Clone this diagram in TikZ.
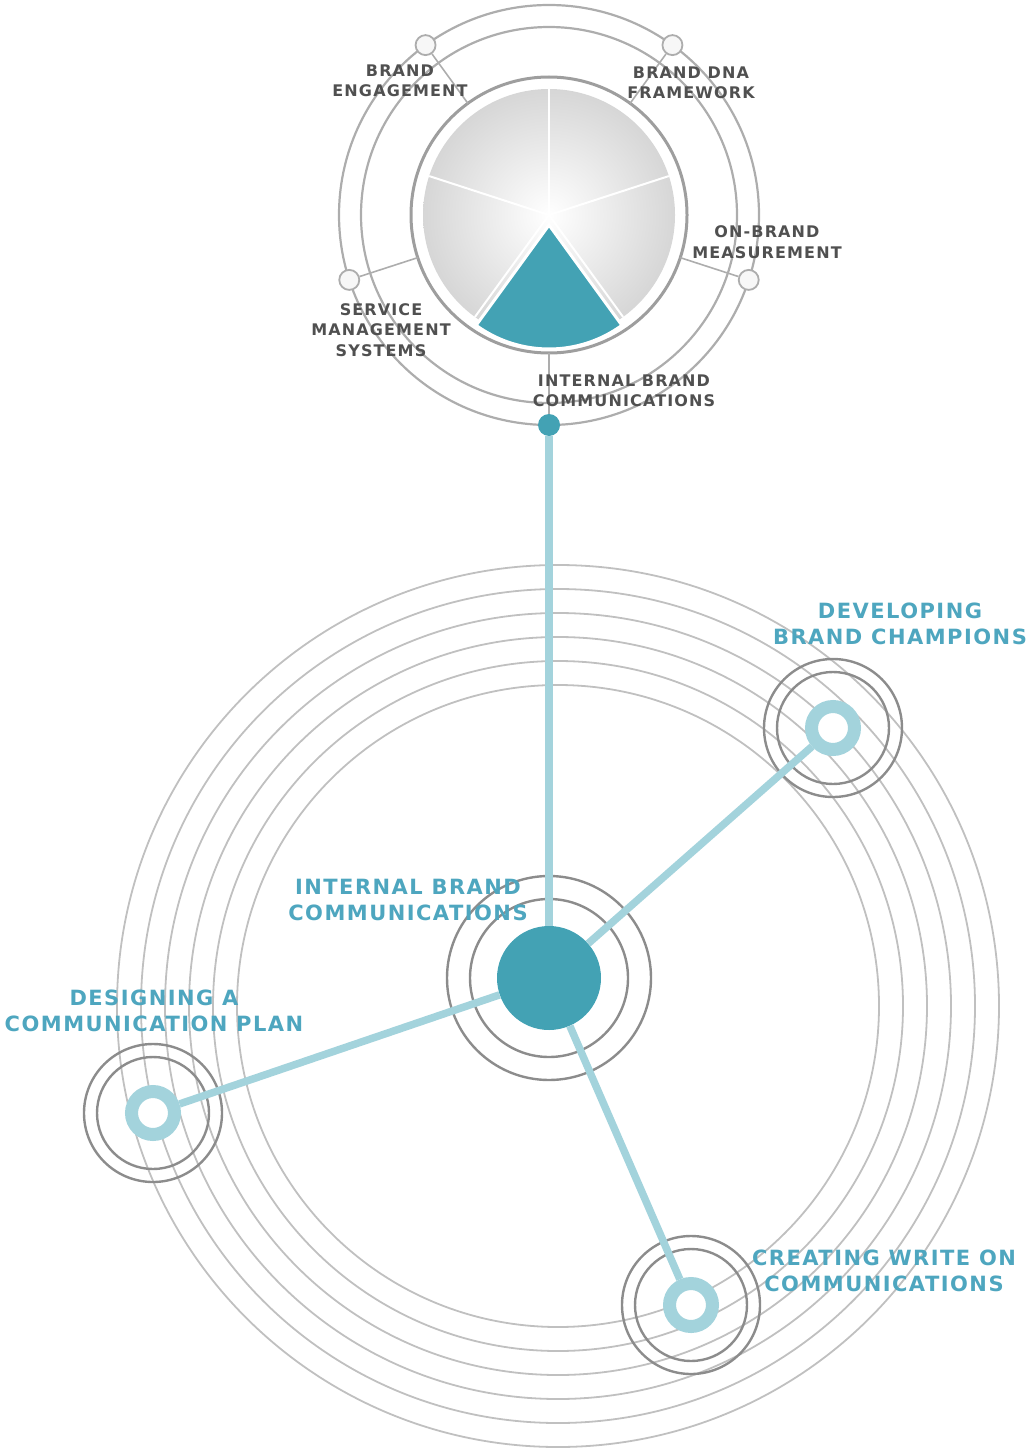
\documentclass[tikz,border=0pt]{standalone}
\usepackage{fontspec}
\usepackage{tikz}
\usepackage{xcolor}

\newfontfamily\lblfont{DejaVu Sans}[LetterSpace=7]

\definecolor{ibteal}{RGB}{67,162,180}
\definecolor{iblight}{RGB}{163,211,220}
\definecolor{ibtext}{RGB}{78,166,191}
\definecolor{ibgray}{RGB}{80,80,80}
\definecolor{ringgray}{RGB}{192,192,192}
\definecolor{darkring}{RGB}{140,140,140}

\tikzset{
  topring/.style={draw=ringgray!90!black,line width=2.2pt},
  pieborder/.style={draw=black!38,line width=3pt},
  spoke/.style={draw=ringgray!90!black,line width=1.6pt},
  tdot/.style={circle,draw=ringgray!90!black,fill=black!3,line width=1.8pt,minimum size=20pt,inner sep=0pt},
  tdotteal/.style={circle,fill=ibteal,minimum size=22pt,inner sep=0pt},
  bigring/.style={draw=ringgray,line width=1.8pt},
  satring/.style={draw=darkring,line width=2.4pt},
  hub/.style={circle,fill=ibteal,minimum size=104pt,inner sep=0pt},
  sat/.style={circle,draw=iblight,fill=white,line width=13pt,minimum size=43pt,inner sep=0pt},
  link/.style={draw=iblight,line width=7.5pt},
  toplbl/.style={align=center,inner sep=0pt,text=ibgray,font=\lblfont\bfseries\fontsize{16}{20.5}\selectfont},
  botlbl/.style={align=center,inner sep=0pt,text=ibtext,font=\lblfont\bfseries\fontsize{21}{25.5}\selectfont}
}

\begin{document}
\begin{tikzpicture}[x=1pt,y=-1pt]
\useasboundingbox (0,0) rectangle (1027,1455);

% wheel at the top
\coordinate (c0) at (549,215);
\draw[topring] (c0) circle[radius=210];
\draw[topring] (c0) circle[radius=188];
\shade[inner color=white,outer color=black!16] (c0) circle[radius=126];
\foreach \a in {54,126,198,270,342}
  \draw[white,line width=2pt] (c0) -- ++(\a:126);
\filldraw[fill=ibteal,draw=white,line width=3pt] (549,225) -- ++(54:124) arc[start angle=54,end angle=126,radius=124] -- cycle;
\draw[pieborder] (c0) circle[radius=138];

\foreach \a/\n in {234/be,306/dna,18/ob,162/sms} {
  \path (c0) ++(\a:138) coordinate (\n-in);
  \path (c0) ++(\a:210) node[tdot] (\n) {};
  \draw[spoke] (\n) -- (\n-in);
}
\path (c0) ++(90:138) coordinate (ibc-in);
\path (c0) ++(90:210) node[tdotteal] (ibc) {};
\draw[spoke] (ibc) -- (ibc-in);

\node[toplbl] (lbe) at (400,81) {BRAND\\ENGAGEMENT};
\node[toplbl] (ldna) at (691,83) {BRAND DNA\\FRAMEWORK};
\node[toplbl] (lob) at (767,242) {ON-BRAND\\MEASUREMENT};
\node[toplbl] (lsms) at (381,330) {SERVICE\\MANAGEMENT\\SYSTEMS};
\node[toplbl] (libc) at (624,391) {INTERNAL BRAND\\COMMUNICATIONS};

% rings at the bottom
\coordinate (c1) at (558,1006);
\foreach \r in {321,345,369,393,417,441}
  \draw[bigring] (c1) circle[radius=\r];

\draw[satring] (549,978) circle[radius=79] circle[radius=102];
\foreach \x/\y in {833/728,153/1113,691/1305}
  \draw[satring] (\x,\y) circle[radius=56] circle[radius=69];

\node[hub] (hub) at (549,978) {};
\node[sat] (dev) at (833,728) {};
\node[sat] (des) at (153,1113) {};
\node[sat] (cre) at (691,1305) {};

\draw[link] (ibc) -- (hub);
\draw[link] (hub) -- (dev);
\draw[link] (hub) -- (des);
\draw[link] (hub) -- (cre);

\node[botlbl] (ldev) at (900,624) {DEVELOPING\\BRAND CHAMPIONS};
\node[botlbl] (lhub) at (408,900) {INTERNAL BRAND\\COMMUNICATIONS};
\node[botlbl] (ldes) at (154,1011) {DESIGNING A\\COMMUNICATION PLAN};
\node[botlbl] (lcre) at (884,1271) {CREATING WRITE ON\\COMMUNICATIONS};
\end{tikzpicture}
\end{document}
